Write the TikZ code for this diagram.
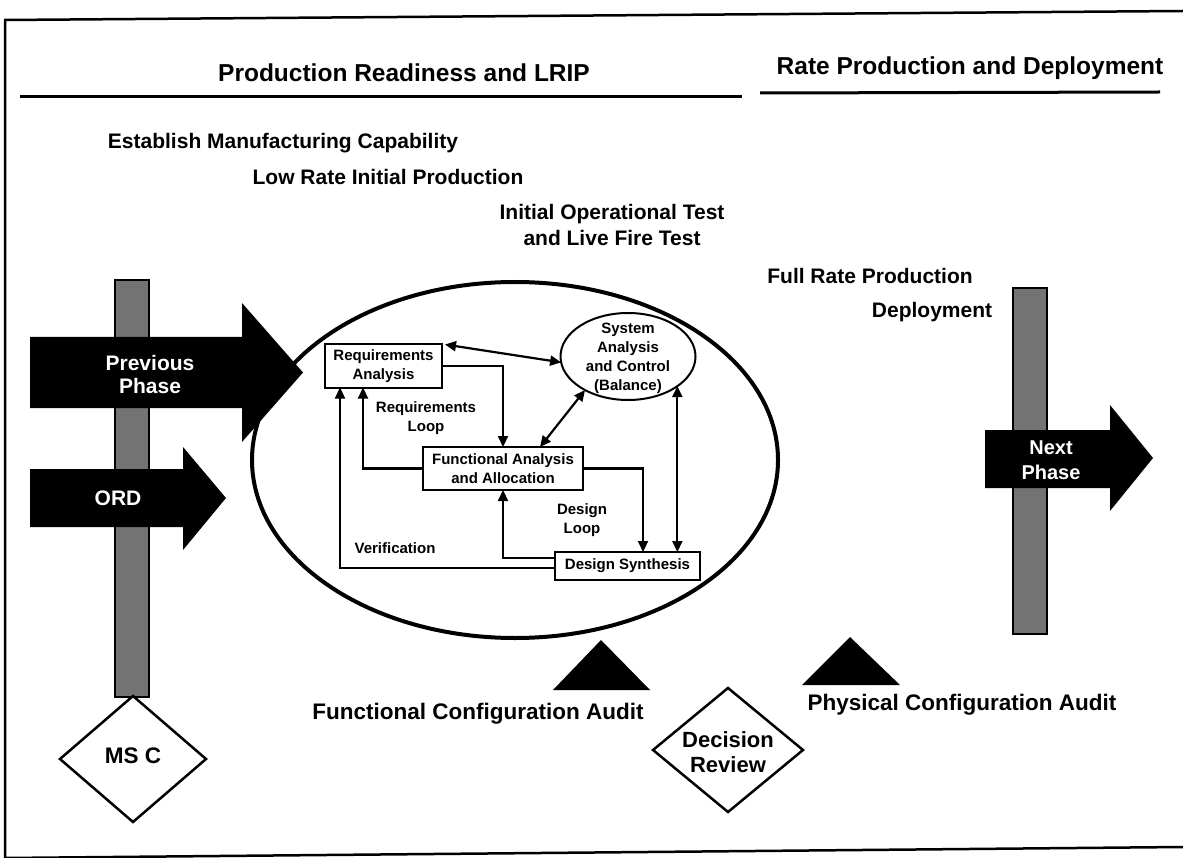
\documentclass[tikz,border=0pt]{standalone}
\usepackage{fontspec}
\setmainfont{Liberation Sans}
\usetikzlibrary{arrows.meta,shapes.geometric}
\begin{document}
\begin{tikzpicture}[x=1pt,y=-1pt,
  every node/.style={inner sep=0pt, outer sep=0pt},
  hdr/.style={font=\fontsize{24.5}{28}\selectfont\bfseries},
  lbl/.style={font=\fontsize{21}{26}\selectfont\bfseries, align=center},
  big/.style={font=\fontsize{22.5}{25}\selectfont\bfseries, align=center},
  wtxt/.style={font=\fontsize{21}{23}\selectfont\bfseries, text=white, align=center},
  sm/.style={font=\fontsize{15}{19}\selectfont\bfseries, align=center},
  box/.style={draw, line width=2pt, rectangle, fill=white},
  conn/.style={line width=2.2pt, -{Triangle[length=11pt,width=10pt]}},
  dconn/.style={line width=2.2pt, {Triangle[length=11pt,width=10pt]}-{Triangle[length=11pt,width=10pt]}},
  bar/.style={draw=black, fill=black!55, line width=2pt},
  dia/.style={draw, diamond, line width=2.5pt, fill=white},
  bigarrow/.style={fill=black},
  tri/.style={fill=black}
]
\useasboundingbox (0,0) rectangle (1183,858);
% frame
\draw[line width=2.5pt] (5,858) -- (5,20) -- (1183,11);
\draw[line width=2.5pt] (5,858) -- (1183,847);

% headers
\node[hdr] (h1) at (404,73) {Production Readiness and LRIP};
\draw[line width=3pt] (20,97) -- (742,97);
\node[hdr] (h2) at (970,68) {Rate Production and Deployment};
\draw[line width=3pt] (760,93) -- (1160,92);

% upper labels
\node[lbl] (emc) at (283,143) {Establish Manufacturing Capability};
\node[lbl] (lrip) at (388,177) {Low Rate Initial Production};
\node[lbl] (iot) at (612,225) {Initial Operational Test\\and Live Fire Test};
\node[lbl] (frp) at (870,276) {Full Rate Production};
\node[lbl] (dep) at (932,312) {Deployment};

% bars
\node[bar, minimum width=34pt, minimum height=417pt] (lbar) at (132,488.5) {};
\node[bar, minimum width=34pt, minimum height=346pt] (rbar) at (1030,461) {};

% big arrows
\fill[bigarrow] (30,337) -- (242,337) -- (242,303) -- (303,372.5) -- (242,442) -- (242,408) -- (30,408) -- cycle;
\node[wtxt] (prev) at (150,374) {Previous\\Phase};
\fill[bigarrow] (30,469) -- (183,469) -- (183,447) -- (226,498) -- (183,550) -- (183,527) -- (30,527) -- cycle;
\node[wtxt] (ord) at (118,498) {ORD};
\fill[bigarrow] (985,430) -- (1110,430) -- (1110,405) -- (1153,458) -- (1110,511) -- (1110,488) -- (985,488) -- cycle;
\node[wtxt, font=\fontsize{20}{25}\selectfont\bfseries] (next) at (1051,460) {Next\\Phase};

% outer ellipse
\node[draw, ellipse, line width=4pt, minimum width=526pt, minimum height=356pt] (outer) at (515,460) {};

% inner diagram
\node[box, sm, minimum width=117pt, minimum height=43pt] (req) at (383.5,366) {Requirements\\Analysis};
\node[draw, ellipse, line width=2pt, minimum width=135pt, minimum height=87pt] (sys) at (628,356.5) {};
\node[sm] (systxt) at (628,358) {System\\Analysis\\and Control\\(Balance)};
\node[box, sm, minimum width=160pt, minimum height=43pt] (func) at (503,468.5) {Functional Analysis\\and Allocation};
\node[box, sm, minimum width=145pt, minimum height=28pt] (des) at (627.5,566) {Design Synthesis};

\draw[dconn] ([xshift=3pt]req.north east) -- (sys.185);
\draw[conn] (req.east) -| (func.north);
\draw[dconn] ([xshift=37pt]func.north) -- (sys.218);
\draw[conn] (func.west) -| ([xshift=-20.5pt]req.south);
\draw[conn] ([yshift=-2pt]des.west) -| ([xshift=-43.5pt]req.south);
\draw[conn] (func.east) -| ([xshift=15.5pt]des.north);
\draw[conn] ([yshift=8pt]des.west) -| (func.south);
\draw[dconn] (sys.-31) -- (sys.-31 |- des.north);

\node[sm] (rloop) at (426,418) {Requirements\\Loop};
\node[sm] (dloop) at (582,520) {Design\\Loop};
\node[sm] (verif) at (395,548) {Verification};

% audits
\fill[tri] (601,640) -- (650,690) -- (553,690) -- cycle;
\node[big] (fca) at (478,714) {Functional Configuration Audit};
\fill[tri] (850,637) -- (900,685) -- (802,685) -- cycle;
\node[big] (pca) at (962,705) {Physical Configuration Audit};

% milestones
\node[dia, minimum width=146pt, minimum height=126pt] (msc) at (133,759) {};
\node[big] (msctxt) at (133,756) {MS C};
\node[dia, minimum width=150pt, minimum height=124pt] (dr) at (728,750) {};
\node[big, font=\fontsize{22}{25}\selectfont\bfseries] (drtxt) at (728,752) {Decision\\Review};
\end{tikzpicture}
\end{document}
